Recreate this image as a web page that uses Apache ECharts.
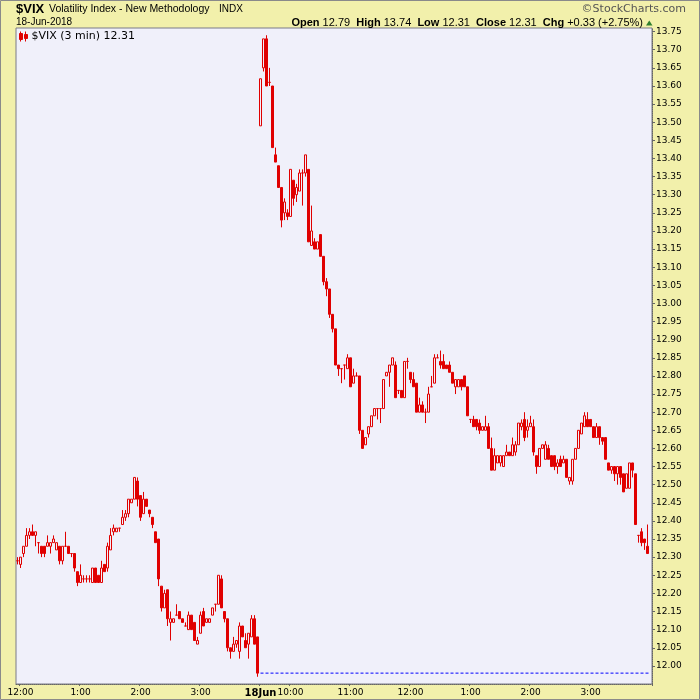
<!DOCTYPE html>
<html><head><meta charset="utf-8">
<script src="https://cdn.jsdelivr.net/npm/echarts@6/dist/echarts.min.js"></script>
<style>html,body{margin:0;padding:0;background:#f2f0ab}#c{width:700px;height:700px}</style>
</head><body><div id="c"></div>
<script>
// ---- DATA ----  each bar: [open, close, low, high]
// 15-Jun-2018, 3-minute bars from 11:57 to 15:57
const day1Bars = [
[12.29,12.29,12.28,12.30],[12.28,12.30,12.27,12.30],[12.31,12.33,12.30,12.33],[12.33,12.36,12.33,12.38],
[12.36,12.37,12.35,12.38],[12.37,12.36,12.36,12.39],[12.36,12.37,12.33,12.37],[12.34,12.34,12.31,12.34],
[12.33,12.31,12.30,12.33],[12.33,12.31,12.30,12.33],[12.33,12.34,12.33,12.36],[12.33,12.34,12.31,12.34],
[12.34,12.35,12.34,12.36],[12.32,12.34,12.32,12.34],[12.33,12.29,12.28,12.33],[12.29,12.33,12.28,12.33],
[12.33,12.33,12.33,12.37],[12.33,12.31,12.31,12.33],[12.31,12.31,12.30,12.31],[12.31,12.27,12.26,12.31],
[12.26,12.23,12.22,12.26],[12.23,12.25,12.23,12.28],[12.24,12.24,12.23,12.25],[12.24,12.24,12.23,12.25],
[12.24,12.24,12.23,12.25],[12.23,12.27,12.23,12.27],[12.27,12.23,12.23,12.27],[12.25,12.23,12.23,12.25],
[12.23,12.27,12.23,12.29],[12.28,12.26,12.26,12.28],[12.27,12.33,12.26,12.34],[12.32,12.36,12.32,12.38],
[12.37,12.38,12.36,12.39],[12.37,12.38,12.37,12.38],[12.38,12.38,12.37,12.38],[12.39,12.41,12.39,12.43],
[12.41,12.42,12.40,12.43],[12.42,12.46,12.41,12.46],[12.45,12.46,12.45,12.46],[12.46,12.52,12.46,12.52],
[12.51,12.46,12.44,12.52],[12.47,12.41,12.40,12.47],[12.42,12.46,12.42,12.48],[12.46,12.44,12.44,12.46],
[12.43,12.42,12.41,12.43],[12.41,12.39,12.38,12.41],[12.37,12.34,12.34,12.37],[12.35,12.24,12.22,12.35],
[12.22,12.16,12.15,12.22],[12.16,12.20,12.16,12.21],[12.21,12.13,12.11,12.21],[12.12,12.13,12.07,12.15],
[12.12,12.13,12.12,12.13],[12.14,12.14,12.14,12.17],[12.15,12.13,12.13,12.15],[12.13,12.12,12.12,12.13],
[12.11,12.11,12.11,12.12],[12.10,12.14,12.10,12.15],[12.14,12.10,12.10,12.14],[12.12,12.07,12.07,12.12],
[12.06,12.07,12.06,12.08],[12.09,12.14,12.09,12.15],[12.15,12.11,12.11,12.16],[12.12,12.13,12.12,12.13],
[12.12,12.13,12.12,12.13],[12.14,12.16,12.14,12.16],[12.17,12.17,12.15,12.17],[12.17,12.25,12.17,12.25],
[12.24,12.16,12.16,12.25],[12.15,12.13,12.12,12.15],[12.13,12.05,12.04,12.13],[12.05,12.04,12.02,12.05],
[12.04,12.06,12.04,12.08],[12.06,12.07,12.05,12.07],[12.04,12.11,12.02,12.12],[12.11,12.08,12.08,12.11],
[12.07,12.05,12.05,12.09],[12.06,12.09,12.02,12.09],[12.08,12.13,12.08,12.14],[12.13,12.06,12.06,12.14],
[12.08,11.98,11.97,12.08]
];
// 18-Jun-2018, 3-minute bars from 09:30 to 15:57
const day2Bars = [
[13.49,13.62,13.49,13.62],[13.65,13.73,13.64,13.73],[13.73,13.60,13.60,13.74],[13.61,13.61,13.60,13.65],
[13.60,13.43,13.43,13.60],[13.41,13.39,13.39,13.43],[13.38,13.32,13.32,13.38],[13.32,13.23,13.21,13.32],
[13.25,13.28,13.23,13.29],[13.25,13.24,13.23,13.26],[13.24,13.37,13.24,13.37],[13.34,13.29,13.27,13.34],
[13.30,13.32,13.28,13.33],[13.31,13.36,13.31,13.37],[13.36,13.36,13.27,13.37],[13.36,13.41,13.35,13.41],
[13.37,13.17,13.17,13.37],[13.16,13.20,13.16,13.27],[13.17,13.15,13.15,13.18],[13.15,13.17,13.15,13.17],
[13.19,13.13,13.13,13.19],[13.13,13.06,13.05,13.13],[13.06,13.04,13.02,13.07],[13.04,12.97,12.96,13.04],
[12.97,12.93,12.92,12.97],[12.93,12.83,12.83,12.93],
[12.83,12.82,12.80,12.83],[12.82,12.82,12.78,12.82],[12.83,12.83,12.79,12.83],[12.82,12.85,12.82,12.86],
[12.85,12.77,12.77,12.85],[12.78,12.80,12.78,12.82],[12.80,12.80,12.80,12.81],[12.80,12.65,12.64,12.80],
[12.65,12.60,12.60,12.65],[12.61,12.63,12.61,12.63],[12.64,12.66,12.63,12.66],[12.66,12.69,12.66,12.69],
[12.69,12.71,12.69,12.71],[12.71,12.71,12.68,12.71],[12.71,12.71,12.67,12.71],[12.71,12.79,12.71,12.79],
[12.80,12.81,12.80,12.81],[12.81,12.83,12.77,12.83],[12.83,12.85,12.83,12.85],[12.83,12.74,12.74,12.84],
[12.76,12.76,12.75,12.76],[12.76,12.74,12.74,12.76],[12.74,12.84,12.74,12.84],[12.84,12.84,12.82,12.85],
[12.81,12.79,12.78,12.81],[12.79,12.77,12.77,12.81],[12.78,12.70,12.70,12.78],[12.70,12.72,12.70,12.74],
[12.72,12.70,12.70,12.73],[12.70,12.70,12.67,12.71],[12.70,12.75,12.70,12.77],[12.77,12.77,12.77,12.80],
[12.78,12.85,12.78,12.86],[12.85,12.85,12.85,12.86],[12.84,12.83,12.82,12.87],[12.84,12.82,12.82,12.86],
[12.83,12.82,12.82,12.83],[12.83,12.81,12.81,12.84],[12.81,12.78,12.78,12.81],[12.77,12.79,12.75,12.79],
[12.77,12.79,12.77,12.79],[12.79,12.77,12.76,12.79],[12.80,12.77,12.77,12.80],
[12.77,12.69,12.69,12.77],[12.68,12.68,12.67,12.68],[12.68,12.66,12.66,12.69],[12.68,12.66,12.65,12.68],
[12.67,12.65,12.64,12.68],[12.65,12.66,12.65,12.66],[12.65,12.66,12.65,12.69],[12.66,12.60,12.60,12.67],
[12.60,12.54,12.54,12.63],[12.54,12.58,12.54,12.60],[12.56,12.58,12.56,12.58],[12.56,12.58,12.55,12.58],
[12.55,12.58,12.55,12.58],[12.58,12.59,12.58,12.61],[12.59,12.58,12.58,12.59],[12.58,12.61,12.58,12.63],
[12.59,12.61,12.58,12.62],[12.61,12.67,12.61,12.67],[12.66,12.67,12.65,12.68],[12.68,12.63,12.62,12.70],
[12.65,12.66,12.63,12.68],[12.66,12.67,12.66,12.69],[12.66,12.59,12.58,12.68],[12.58,12.55,12.53,12.58],
[12.55,12.60,12.55,12.60],[12.60,12.61,12.60,12.61],[12.57,12.61,12.57,12.62],[12.60,12.57,12.57,12.61],
[12.58,12.55,12.55,12.58],[12.58,12.55,12.54,12.58],[12.55,12.56,12.53,12.57],[12.57,12.55,12.55,12.58],
[12.56,12.57,12.56,12.58],[12.57,12.52,12.52,12.57],[12.51,12.52,12.50,12.52],[12.51,12.57,12.50,12.57],
[12.57,12.60,12.57,12.60],[12.60,12.65,12.60,12.65],[12.64,12.67,12.64,12.67],[12.66,12.69,12.66,12.70],
[12.68,12.66,12.66,12.70],[12.68,12.66,12.66,12.68],[12.66,12.63,12.63,12.66],[12.63,12.66,12.63,12.67],
[12.66,12.63,12.61,12.66],[12.63,12.62,12.61,12.63],[12.63,12.57,12.57,12.63],[12.56,12.54,12.54,12.56],
[12.54,12.55,12.53,12.55],[12.55,12.53,12.51,12.55],[12.53,12.55,12.50,12.55],[12.55,12.52,12.50,12.55],
[12.53,12.48,12.48,12.53],[12.49,12.53,12.49,12.53],[12.49,12.56,12.49,12.56],[12.56,12.54,12.52,12.56],
[12.53,12.39,12.39,12.53],[12.36,12.36,12.34,12.36],[12.37,12.34,12.33,12.38],[12.35,12.34,12.32,12.35],
[12.33,12.31,12.31,12.39]
];
const prevClose = 11.98;
// x tick labels: [bar time, label]
const xTickLabels = [
  ['06-15 12:00','12:00'],['06-15 13:00','1:00'],['06-15 14:00','2:00'],['06-15 15:00','3:00'],
  ['06-18 09:30','18Jun'],['06-18 10:00','10:00'],['06-18 11:00','11:00'],['06-18 12:00','12:00'],
  ['06-18 13:00','1:00'],['06-18 14:00','2:00'],['06-18 15:00','3:00']
];
const boldTicks = ['06-18 09:30'];
const yMin = 11.95, yMax = 13.76, yStep = 0.05;
const seriesName = '$VIX (3 min) 12.31';
const headline = {sym:'$VIX', name:'Volatility Index - New Methodology', exch:'INDX', date:'18-Jun-2018',
  open:'12.79', high:'13.74', low:'12.31', close:'12.31', chg:'+0.33 (+2.75%)'};

// ---- BUILD ----
function barTimes(day, h, m, n) {
  const out = [];
  for (let k = 0; k < n; k++) {
    const t = h * 60 + m + 3 * k;
    out.push(day + ' ' + String(Math.floor(t / 60)).padStart(2, '0') + ':' + String(t % 60).padStart(2, '0'));
  }
  return out;
}
const categories = barTimes('06-15', 11, 57, day1Bars.length)
  .concat(barTimes('06-18', 9, 30, day2Bars.length + 1));
const bars = day1Bars.concat(day2Bars);
const labelOf = {};
xTickLabels.forEach(([t, s]) => { labelOf[t] = s; });

const RED = '#e00000';
const AX = 'DejaVu Sans';
const HD = 'Liberation Sans, Arial, sans-serif';

const chart = echarts.init(document.getElementById('c'), null, {renderer: 'canvas'});
chart.setOption({
  animation: false,
  backgroundColor: '#f2f0ab',
  grid: {left: 16, right: 48, top: 28, bottom: 16, show: true, backgroundColor: '#f0f0fa',
         borderColor: '#7a7a88', borderWidth: 1, containLabel: false, outerBoundsMode: 'none'},
  legend: {
    left: 19, top: 31, padding: 0, itemWidth: 8, itemHeight: 10, itemGap: 4,
    icon: 'path://M1,0L1,10M0,2L3,2L3,8L0,8ZM6,0L6,10M5,3L8,3L8,7L5,7Z',
    itemStyle: {color: RED, borderColor: RED, borderWidth: 1},
    textStyle: {fontFamily: AX, fontSize: 11, color: '#000', padding: [0, 0, 0, -1]},
    data: [seriesName]
  },
  xAxis: {
    type: 'category', data: categories, boundaryGap: true,
    axisLine: {show: true, lineStyle: {color: '#666', type: 'dotted'}},
    axisTick: {show: true, interval: (i, v) => v in labelOf, length: 2, lineStyle: {color: '#666'}},
    axisLabel: {
      interval: (i, v) => v in labelOf,
      formatter: (v) => boldTicks.includes(v) ? '{b|' + labelOf[v] + '}' : labelOf[v],
      fontFamily: AX, fontSize: 9, color: '#000', margin: 4,
      rich: {b: {fontFamily: AX, fontSize: 10, fontWeight: 'bold', color: '#000'}}
    },
    splitLine: {show: false}
  },
  yAxis: {
    type: 'value', position: 'right', min: yMin, max: yMax, interval: yStep, scale: true,
    axisLine: {show: true, lineStyle: {color: '#666', type: 'dotted'}},
    axisTick: {show: true, length: 3, lineStyle: {color: '#666'}},
    axisLabel: {formatter: (v) => v.toFixed(2), fontFamily: AX, fontSize: 9, color: '#000', margin: 4,
                showMinLabel: false, showMaxLabel: false},
    splitLine: {show: false}
  },
  series: [{
    name: seriesName, type: 'candlestick', data: bars, barWidth: 2,
    itemStyle: {color: 'rgba(0,0,0,0)', color0: RED, borderColor: RED, borderColor0: RED, borderWidth: 1}
  }, {
    name: 'prevClose', type: 'line', symbol: 'none', silent: true, z: 1,
    data: [[categories[day1Bars.length], prevClose], [categories[categories.length - 1], prevClose]],
    lineStyle: {color: '#0000ff', width: 1, type: [3, 2]}
  }],
  graphic: [
    {type: 'rect', shape: {x: 0.5, y: 0.5, width: 699, height: 699}, style: {fill: 'none', stroke: '#8a8a8a', lineWidth: 1}, silent: true},
    {type: 'text', x: 16, y: 9, style: {text: headline.sym, font: 'bold 13px ' + HD, fill: '#000', verticalAlign: 'middle'}},
    {type: 'text', x: 49, y: 9.5, style: {text: headline.name, font: '10.5px ' + HD, fill: '#000', verticalAlign: 'middle'}},
    {type: 'text', x: 219, y: 9.5, style: {text: headline.exch, font: '10px ' + HD, fill: '#000', verticalAlign: 'middle'}},
    {type: 'text', x: 686, y: 9, style: {text: '\u00A9StockCharts.com', font: '11px ' + AX, fill: '#555', align: 'right', verticalAlign: 'middle'}},
    {type: 'text', x: 16, y: 22.5, style: {text: headline.date, font: '10px ' + HD, fill: '#000', verticalAlign: 'middle'}},
    {type: 'text', x: 643, y: 22.5, style: {
      text: '{b|Open} ' + headline.open + '  {b|High} ' + headline.high + '  {b|Low} ' + headline.low +
            '  {b|Close} ' + headline.close + '  {b|Chg} ' + headline.chg,
      font: '11px ' + HD, fill: '#000', align: 'right', verticalAlign: 'middle',
      rich: {b: {font: 'bold 11px ' + HD, fill: '#000'}}}},
    {type: 'polygon', shape: {points: [[646, 25.5], [652.5, 25.5], [649.25, 20.5]]}, style: {fill: '#2f7f2f'}}
  ]
});
</script></body></html>
